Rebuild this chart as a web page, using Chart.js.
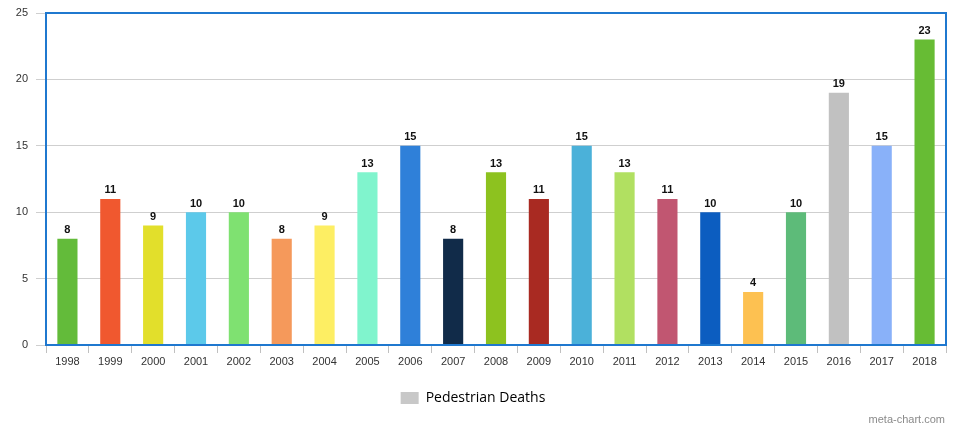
<!DOCTYPE html>
<html>
<head>
<meta charset="utf-8">
<script src="https://cdn.jsdelivr.net/npm/chart.js@4/dist/chart.umd.min.js"></script>
<style>
  html, body { margin: 0; padding: 0; background: #fff; }
  #wrap { width: 969px; height: 427px; }
</style>
</head>
<body>
<div id="wrap"><canvas id="chart"></canvas></div>
<script>
const years = ['1998', '1999', '2000', '2001', '2002', '2003', '2004', '2005', '2006', '2007', '2008',
  '2009', '2010', '2011', '2012', '2013', '2014', '2015', '2016', '2017', '2018'];
const deaths = [8, 11, 9, 10, 10, 8, 9, 13, 15, 8, 13, 11, 15, 13, 11, 10, 4, 10, 19, 15, 23];
const barColors = ['#63bb3a', '#f0582f', '#e2df2b', '#5cc9ea', '#7fe171', '#f5995b', '#fdee63',
  '#80f4cd', '#2f80d9', '#112b49', '#8dc21f', '#a92a22', '#4bb1d9', '#b1e061', '#c15671',
  '#0c5dc0', '#fdc151', '#5dbb79', '#c1c1c1', '#89b1f9', '#67bc34'];
const yTicks = [0, 5, 10, 15, 20, 25];

// numbers above the bars + frame + watermark
const extras = {
  id: 'extras',
  afterDatasetsDraw(chart) {
    const ctx = chart.ctx;
    const meta = chart.getDatasetMeta(0);
    ctx.save();
    ctx.font = 'bold 11px "Liberation Sans", Arial, sans-serif';
    ctx.fillStyle = '#111';
    ctx.textAlign = 'center';
    ctx.textBaseline = 'bottom';
    meta.data.forEach((bar, i) => {
      ctx.fillText(deaths[i], bar.x, bar.y - 3);
    });
    const a = chart.chartArea;
    ctx.strokeStyle = '#1f78cf';
    ctx.lineWidth = 2;
    ctx.strokeRect(a.left, a.top, a.right - a.left, a.bottom - a.top);
    ctx.font = '11px "Liberation Sans", Arial, sans-serif';
    ctx.fillStyle = '#8a8a8a';
    ctx.textAlign = 'right';
    ctx.textBaseline = 'alphabetic';
    ctx.fillText('meta-chart.com', 945, 423);
    ctx.restore();
  }
};

new Chart(document.getElementById('chart'), {
  type: 'bar',
  data: {
    labels: years,
    datasets: [{
      label: 'Pedestrian Deaths',
      data: deaths,
      backgroundColor: barColors,
      barPercentage: 0.47,
      categoryPercentage: 1.0,
    }]
  },
  options: {
    responsive: true,
    maintainAspectRatio: false,
    animation: false,
    layout: { padding: { top: 13, right: 23, bottom: 12, left: 0 } },
    plugins: {
      tooltip: { enabled: false },
      legend: {
        position: 'bottom',
        onClick: null,
        labels: {
          generateLabels: () => [{
            text: 'Pedestrian Deaths',
            fillStyle: '#c8c8c8',
            strokeStyle: '#c8c8c8',
            lineWidth: 0,
          }],
          boxWidth: 18,
          boxHeight: 12,
          color: '#555',
          padding: 10,
          font: { family: '"Open Sans", sans-serif', size: 14 },
        }
      }
    },
    scales: {
      x: {
        offset: true,
        grid: {
          offset: true,
          drawOnChartArea: false,
          tickLength: 8,
          color: '#c0c0c0',
        },
        border: { display: false },
        ticks: {
          color: '#333',
          padding: 2,
          font: { family: '"Liberation Sans", Arial, sans-serif', size: 11 },
        },
        afterFit(scale) { scale.height = 36; }
      },
      y: {
        min: 0,
        max: 25,
        afterBuildTicks(scale) { scale.ticks = yTicks.map(v => ({ value: v })); },
        grid: { color: '#cfcfcf', tickLength: 10 },
        border: { display: false },
        ticks: {
          color: '#333',
          padding: 8,
          font: { family: '"Liberation Sans", Arial, sans-serif', size: 11 },
        },
        afterFit(scale) {
          scale.width = 46;
          scale.paddingTop = 0;
          scale.paddingBottom = 0;
        }
      }
    }
  },
  plugins: [extras]
});
</script>
</body>
</html>
